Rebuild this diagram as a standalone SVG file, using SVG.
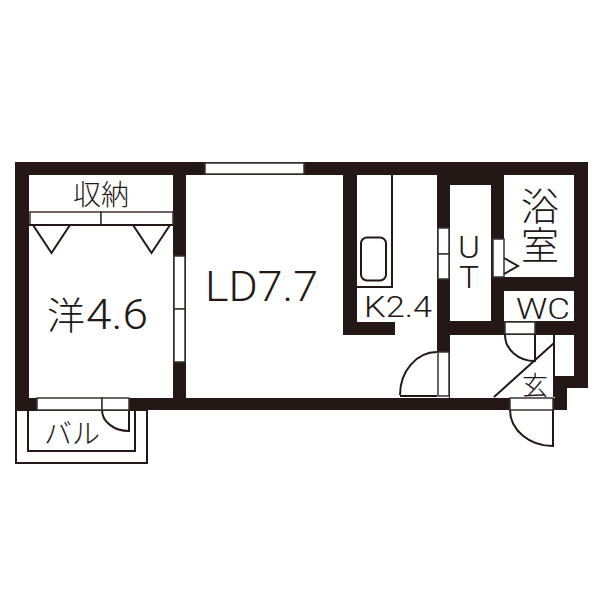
<svg xmlns="http://www.w3.org/2000/svg" width="600" height="600" viewBox="0 0 600 600">
<style>
.w{fill:#231815}
.o{fill:#fff;stroke:#3a3230;stroke-width:1.5}
.l{fill:none;stroke:#231815;stroke-width:2}
.t{fill:#231815;font-family:"Roboto","Liberation Sans",sans-serif;font-weight:300}
.j{fill:#231815;font-family:"Noto Sans CJK JP",sans-serif;font-weight:300;text-anchor:middle}
</style>
<rect width="600" height="600" fill="#fff"/>
<g id="balcony">
<rect class="l" x="16" y="410" width="131" height="53"/>
<rect class="l" x="28" y="410" width="107" height="41"/>
<path class="l" d="M129 410V431A27 21 0 0 1 102 410"/>
</g>
<g id="walls">
<path class="w" d="M15 162H588V388H567V410H15Z"/>
</g>
<g id="rooms" fill="#fff">
<rect x="29" y="175" width="144" height="223"/>
<rect x="186" y="175" width="157" height="223"/>
<path d="M357 175H437V352H449V398H343V335H395V322H357Z"/>
<rect x="450" y="185" width="41" height="136"/>
<rect x="504" y="175" width="70" height="102"/>
<rect x="504" y="291" width="70" height="30"/>
<path d="M450 335H574V376H555V398H450Z"/>
</g>
<g id="openings">
<rect class="o" x="205" y="163" width="99" height="11"/>
<rect class="o" x="174" y="256" width="11" height="53"/>
<rect class="o" x="174" y="309" width="11" height="53"/>
<rect class="o" x="37" y="398" width="65" height="12"/>
<rect class="o" x="102" y="398" width="27" height="12"/>
<rect class="o" x="438" y="228" width="11" height="26"/>
<rect class="o" x="438" y="254" width="11" height="25"/>
<rect class="o" x="493" y="239" width="11" height="38"/>
<rect class="o" x="438" y="352" width="11" height="44"/>
<rect class="o" x="505" y="322" width="30" height="12"/>
<rect class="o" x="510" y="398" width="43" height="12"/>
</g>
<g id="fixtures">
<rect class="o" x="30" y="212" width="71" height="13"/>
<rect class="o" x="101" y="212" width="72" height="13"/>
<path class="l" d="M29 225H173"/>
<path class="l" d="M33 225L51.500 253L70 225M133 225L151.500 253L170 225"/>
<path class="l" d="M392 175V287H357"/>
<rect class="l" x="361" y="237.500" width="25" height="43" rx="6"/>
<path class="l" d="M504 258L518 266L504 274"/>
<path class="l" d="M400 395A37 43 0 0 1 437 352M400 396H437"/>
<path class="l" d="M505 335A30 26 0 0 0 535 361V335M554 335V397M494 397L554 343"/>
<path class="l" d="M510 410A43 36 0 0 0 553 446V410"/>
</g>
<g id="labels">
<text class="j" x="101" y="205" font-size="28">収納</text>
<text class="j" x="66" y="329" font-size="38">洋</text>
<text class="t" x="86" y="329" font-size="43" textLength="62" lengthAdjust="spacingAndGlyphs">4.6</text>
<text class="t" x="205" y="301" font-size="42" textLength="113" lengthAdjust="spacingAndGlyphs">LD7.7</text>
<text class="t" x="364" y="317" font-size="30" textLength="68" lengthAdjust="spacingAndGlyphs">K2.4</text>
<text class="t" x="458" y="258" font-size="32" textLength="22" lengthAdjust="spacingAndGlyphs">U</text>
<text class="t" x="459" y="288" font-size="32" textLength="20" lengthAdjust="spacingAndGlyphs">T</text>
<text class="j" x="540" y="220" font-size="38">浴</text>
<text class="j" x="540" y="259" font-size="38">室</text>
<text class="t" x="516" y="319" font-size="30" textLength="54" lengthAdjust="spacingAndGlyphs">WC</text>
<text class="j" x="535" y="395" font-size="26">玄</text>
<text class="j" x="72" y="444" font-size="28">バル</text>
</g>
</svg>
